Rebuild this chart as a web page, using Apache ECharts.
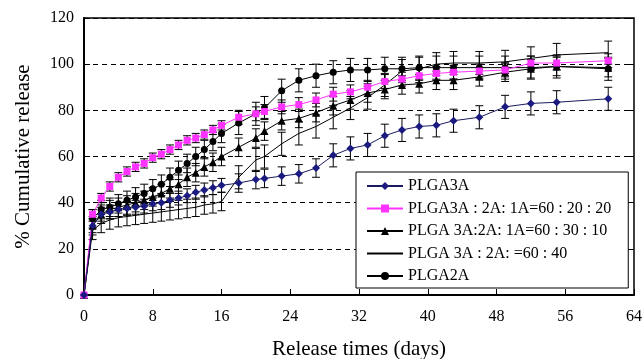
<!DOCTYPE html>
<html>
<head>
<meta charset="utf-8">
<script src="https://cdn.jsdelivr.net/npm/echarts@6/dist/echarts.min.js"></script>
<style>
html,body{margin:0;padding:0;background:#fff;}
#chart{width:644px;height:359px;}
</style>
</head>
<body>
<div id="chart"></div>
<script>
// ---- data ----
const days = [0,1,2,3,4,5,6,7,8,9,10,11,12,13,14,15,16,18,20,21,23,25,27,29,31,33,35,37,39,41,43,46,49,52,55,61];
const seriesNames = ['PLGA3A','PLGA3A : 2A: 1A=60 : 20 : 20','PLGA 3A:2A: 1A=60 : 30 : 10','PLGA 3A : 2A: =60 : 40','PLGA2A'];
const plga3a   = [0,30,35,36,37,37.5,38,38.5,39.5,40,41,42,43,44.5,45.5,46.5,47.5,48.5,50,50.5,51.5,52.5,55,60.5,63.5,65,69,71.5,73,73.5,75.5,77,81.5,83,83.5,85];
const mix602020= [0,35,42,47,51,53.5,55.5,57,59.5,61,63,65,67,68,69.5,71.5,73.5,77,78.5,79.5,81.5,82.5,84.5,87,88,90,92.5,93.5,95,96,96.5,97,97.5,100.5,100.5,101.5];
const mix603010= [0,30,35,37,38,39,40,41,42.5,44,46,48,51,53,55.5,57.5,60,64,68,71,75.5,76.5,79,82,84.5,87.5,89,91,91.5,93,93,94.5,96.5,98,99,98.5];
const mix6040  = [0,28,31,32.5,33.5,34,34.5,35,35.5,36,36.5,37,37.5,38,39,39.5,40.5,51,58.5,60,65.5,70,73,77,81,85.5,91,97,98,100,100.5,100.5,101,102.5,104,105];
const plga2a   = [0,33,37,38,39.5,41,42.5,44,46,48,51,54,57,60,63,66.5,70,74.5,78.5,81,88.5,93,95,96.5,97.5,97.5,98,98,98.5,98.5,98.5,98.5,98.5,98.5,99,98];
const errPlga3a   = [0,3,3,3,3,3,3,3,3,3,3,3,3,3,3,3,3,4,4,4,4,4,4,5,5,5,5,5,5,5,5,5,5,5,5,5];
const errMix602020= [0,2,2,2,2,2,2,2,2,2,2,2,2,2,2,2,2,3,3,3,3,3,3,3,3,3,3,3,3,3,3,3,3,3,3,3];
const errMix603010= [0,4,4,4,4,4,4,4,4,4,4,4,4,4,4,4,4,4,4,4,4,4,4,4,4,4,4,4,4,4,4,4,4,4,4,4];
const errMix6040  = [0,4,4,4,4,4,4,4,4,4,4,4,4,4,4,4,4,5,5,5,5,5,5,5,5,5,5,5,5,5,5,5,5,5,5,5];
const errPlga2a   = [0,4,4,4,4,4,4,4,4,4,4,4,4,4,4,4,4,5,5,5,5,5,5,5,5,5,5,5,5,5,5,5,5,5,5,5];
const xTicks = [0,8,16,24,32,40,48,56,64];
const yTicks = [0,20,40,60,80,100,120];

// ---- chart ----
const FONT = 'Liberation Serif';
const pairs = (ys) => days.map((d,i)=>[d, ys[i]]);
const triples = (ys, es) => days.map((d,i)=>[d, ys[i], es[i]]);

function errRender(params, api){
  const x = api.value(0), y = api.value(1), e = api.value(2);
  if (!e) return null;
  const p = api.coord([x, y + e]), q = api.coord([x, y - e]);
  const c = 4;
  const st = {stroke:'#000', lineWidth:1};
  return {type:'group', children:[
    {type:'line', shape:{x1:p[0],y1:p[1],x2:q[0],y2:q[1]}, style:st},
    {type:'line', shape:{x1:p[0]-c,y1:p[1],x2:p[0]+c,y2:p[1]}, style:st},
    {type:'line', shape:{x1:q[0]-c,y1:q[1],x2:q[0]+c,y2:q[1]}, style:st}
  ]};
}
function errSeries(ys, es){
  return {type:'custom', data: triples(ys, es), renderItem: errRender, z:2, silent:true,
          encode:{x:0,y:1}};
}
function lineSeries(name, ys, color, symbol, size, lineColor, noMarker){
  return {type:'line', name, data: pairs(ys), symbol: symbol, symbolSize: size,
          showSymbol: !noMarker,
          itemStyle: noMarker ? {color:'rgba(0,0,0,0)', borderWidth:0} : {color: color},
          lineStyle:{color: lineColor || color, width:1},
          z:3, animation:false};
}

const chart = echarts.init(document.getElementById('chart'), null, {renderer:'canvas'});
chart.setOption({
  animation:false,
  backgroundColor:'#fff',
  grid:{left:84, right:10, top:18, bottom:64, show:true, borderColor:'#000', borderWidth:1.5,
        containLabel:false, outerBoundsMode:'none'},
  xAxis:{type:'value', min:0, max:64, interval:8,
    name:'Release times (days)', nameLocation:'middle', nameGap:44,
    nameTextStyle:{fontFamily:FONT, fontSize:21, color:'#000'},
    axisLine:{lineStyle:{color:'#000', width:2}},
    axisTick:{inside:true, length:6, lineStyle:{color:'#000'}},
    axisLabel:{fontFamily:FONT, fontSize:16, color:'#000', margin:14,
      formatter:(v)=> xTicks.includes(v) ? String(v) : ''},
    splitLine:{show:false}},
  yAxis:[{type:'value', min:0, max:120, interval:20,
    name:'% Cumulative release', nameLocation:'middle', nameGap:50, nameRotate:90,
    nameTextStyle:{fontFamily:FONT, fontSize:21, color:'#000'},
    axisLine:{show:true, lineStyle:{color:'#000', width:2}},
    axisTick:{show:true, inside:true, length:6, lineStyle:{color:'#000'}},
    axisLabel:{fontFamily:FONT, fontSize:16, color:'#000', margin:10,
      formatter:(v)=> yTicks.includes(v) ? String(v) : ''},
    splitLine:{show:true, lineStyle:{color:'#000', type:[5,4], width:1.2}}},
   {type:'value', min:0, max:120, interval:20, position:'right',
    axisLine:{show:false}, axisTick:{show:true, inside:true, length:6, lineStyle:{color:'#000'}},
    axisLabel:{show:false}, splitLine:{show:false}}],
  legend:{
    data: seriesNames, orient:'vertical', left:356, top:172,
    padding:[6,17,4,10], itemGap:6.5, itemWidth:36, itemHeight:10,
    borderColor:'#000', borderWidth:1, backgroundColor:'#fff',
    textStyle:{fontFamily:FONT, fontSize:16, color:'#000'}, z:10
  },
  series:[
    errSeries(mix6040, errMix6040),
    errSeries(plga2a, errPlga2a),
    errSeries(mix603010, errMix603010),
    errSeries(mix602020, errMix602020),
    errSeries(plga3a, errPlga3a),
    lineSeries(seriesNames[3], mix6040, '#000', 'circle', 0, '#000', true),
    lineSeries(seriesNames[4], plga2a, '#000', 'circle', 7),
    lineSeries(seriesNames[2], mix603010, '#000', 'triangle', 8),
    lineSeries(seriesNames[1], mix602020, '#ff33ff', 'rect', 7),
    lineSeries(seriesNames[0], plga3a, '#1a1a80', 'diamond', 8, '#1a1a60')
  ]
});
</script>
</body>
</html>
